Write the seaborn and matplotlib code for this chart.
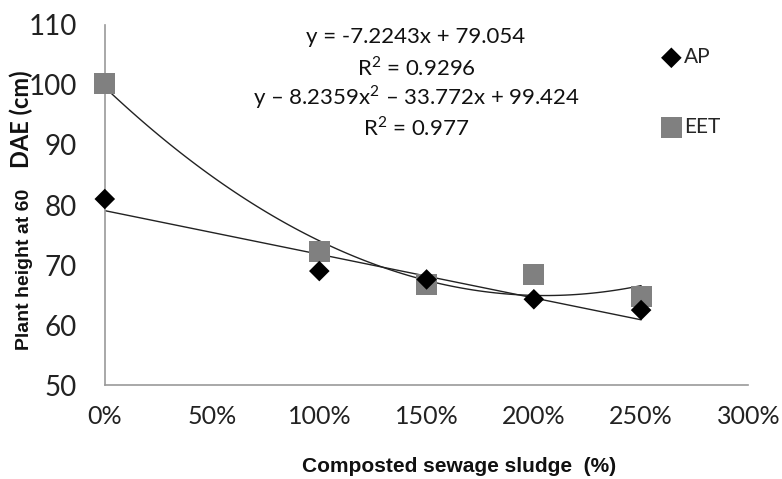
import matplotlib
matplotlib.use("Agg")
import matplotlib.pyplot as plt
import matplotlib.ticker as mticker
import seaborn as sns
import pandas as pd

# sludge dose as fraction (1.0 = 100%)
dose = [0.0, 1.0, 1.5, 2.0, 2.5]
ap_height = [81.0, 69.0, 67.6, 64.3, 62.5]
eet_height = [100.2, 72.3, 66.8, 68.5, 64.8]

eq_lines = [
    "y = -7.2243x + 79.054",
    "R$^2$ = 0.9296",
    "y \u2013 8.2359x$^2$ \u2013 33.772x + 99.424",
    "R$^2$ = 0.977",
]

sns.set_theme(style="white")
plt.rcParams["font.family"] = ["Lato", "DejaVu Sans"]
plt.rcParams["mathtext.fontset"] = "custom"
plt.rcParams["mathtext.rm"] = "Lato"

narrow = ["Liberation Sans Narrow", "Liberation Sans"]

df = pd.DataFrame({"dose": dose, "AP": ap_height, "EET": eet_height})

fig = plt.figure(figsize=(7.82, 4.79), dpi=100)
ax = fig.add_axes([0.134, 0.196, 0.823, 0.752])

sns.regplot(data=df, x="dose", y="AP", order=1, ci=None, scatter=False,
            color="#222222", line_kws={"lw": 1.0}, ax=ax)
sns.regplot(data=df, x="dose", y="EET", order=2, ci=None, scatter=False,
            color="#222222", line_kws={"lw": 1.0}, ax=ax)
sns.scatterplot(data=df, x="dose", y="EET", marker="s", s=230, color="#808080",
                edgecolor="none", ax=ax, zorder=3, label="EET", clip_on=False)
sns.scatterplot(data=df, x="dose", y="AP", marker="D", s=110, color="black",
                edgecolor="none", ax=ax, zorder=4, label="AP", clip_on=False)

ax.set_xlim(0, 3.0)
ax.set_ylim(50, 110)
ax.set_xticks([0, 0.5, 1.0, 1.5, 2.0, 2.5, 3.0])
ax.xaxis.set_major_formatter(mticker.PercentFormatter(xmax=1.0, decimals=0))
ax.set_yticks(range(50, 111, 10))
ax.tick_params(axis="both", colors="#888888", labelcolor="#222222",
               length=7, width=1, direction="out")
ax.tick_params(axis="x", pad=7, labelsize=18)
ax.tick_params(axis="y", pad=13, labelsize=20)
sns.despine(ax=ax)
for side in ["left", "bottom"]:
    ax.spines[side].set_color("#999999")
    ax.spines[side].set_linewidth(1.2)
ax.set_xlabel("")
ax.set_ylabel("")

# legend entries (AP first)
handles, labels = ax.get_legend_handles_labels()
order = [labels.index("AP"), labels.index("EET")]
ax.legend([handles[i] for i in order], [labels[i] for i in order],
          loc="upper left", bbox_to_anchor=(0.835, 0.99), frameon=False,
          fontsize=15, labelspacing=2.4, handletextpad=0.1,
          handlelength=1.0)

# trendline equations
for i, line in enumerate(eq_lines):
    fig.text(0.532, 0.922 - i * 0.0625, line, ha="center", va="center",
             fontsize=16, color="#111111")

fig.text(0.587, 0.027, "Composted sewage sludge  (%)", ha="center", va="center",
         fontsize=15, fontweight="bold", color="#111111", family=narrow)
fig.text(0.031, 0.438, "Plant height at 60", ha="center", va="center",
         rotation=90, fontsize=14, fontweight="bold", color="#111111",
         family=narrow)
fig.text(0.027, 0.752, "DAE (cm)", ha="center", va="center", rotation=90,
         fontsize=17, fontweight="bold", color="#111111", family="Lato")

fig.savefig("out.png", dpi=100)
